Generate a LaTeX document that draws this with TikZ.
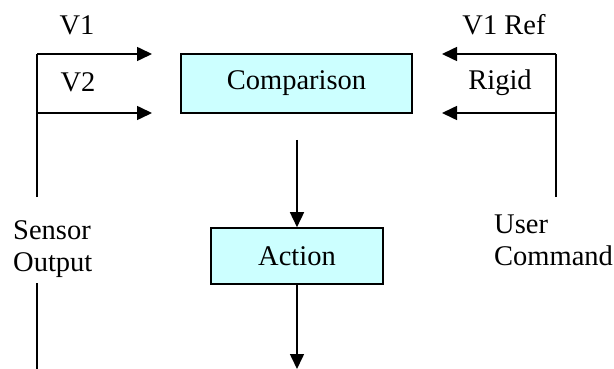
\documentclass[tikz,border=0pt]{standalone}
\usepackage{fontspec}
\setmainfont{Liberation Serif}
\usetikzlibrary{arrows.meta}
\definecolor{boxcyan}{HTML}{CCFFFF}
\begin{document}
\begin{tikzpicture}[x=1pt,y=-1pt,
  every node/.style={font=\fontsize{28.5}{32}\selectfont},
  blockbox/.style={draw=black,line width=1.6pt,fill=boxcyan,inner sep=0pt},
  lbl/.style={inner sep=0pt},
  conn/.style={line width=1.6pt,-{Triangle[length=15pt,width=14pt]}},
  plain/.style={line width=1.6pt}]
\useasboundingbox[fill=white] (0,0) rectangle (614,369);
% boxes
\node[blockbox,minimum width=231pt,minimum height=59pt] (comp) at (296.5,83.5) {Comparison};
\node[blockbox,minimum width=172pt,minimum height=56pt] (action) at (297,256) {Action};
% labels
\node[lbl,anchor=base] (v1) at (77,35) {V1};
\node[lbl,anchor=base] (v2) at (78,92) {V2};
\node[lbl,anchor=base] (v1ref) at (504,35) {V1 Ref};
\node[lbl,anchor=base] (rigid) at (500,90) {Rigid};
\node[lbl,anchor=north west,align=left] (sensor) at (13,220) {Sensor\\Output};
\node[lbl,anchor=north west,align=left] (user) at (494,215) {User\\Command};
% coordinates
\coordinate (lt) at (37,54);
\coordinate (lm) at (37,113);
\coordinate (lup) at (37,197);
\coordinate (ldn) at (37,283);
\coordinate (lbot) at (37,369);
\coordinate (v1tip) at (152,54);
\coordinate (v2tip) at (152,113);
\coordinate (rt) at (556,54);
\coordinate (rm) at (556,113);
\coordinate (rup) at (556,197);
\coordinate (reftip) at (442,54);
\coordinate (rigtip) at (442,113);
\coordinate (ctop) at (297,140);
\coordinate (cbot) at (297,369);
% connectors
\draw[plain] (lup) -- (lt);
\draw[conn] (lt) -- (v1tip);
\draw[conn] (lm) -- (v2tip);
\draw[plain] (ldn) -- (lbot);
\draw[plain] (rup) -- (rt);
\draw[conn] (rt) -- (reftip);
\draw[conn] (rm) -- (rigtip);
\draw[conn] (ctop) -- (action.north);
\draw[conn] (action.south) -- (cbot);
\end{tikzpicture}
\end{document}
